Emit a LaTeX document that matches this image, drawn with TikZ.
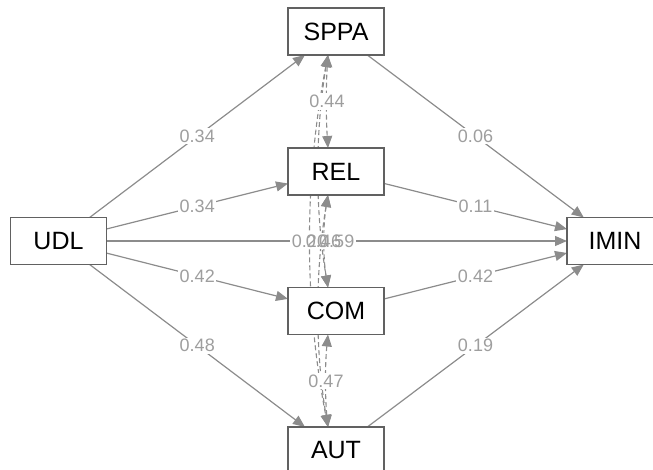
\documentclass[tikz,border=0pt]{standalone}
\usepackage{fontspec}
\setmainfont{Liberation Sans}
\usetikzlibrary{arrows.meta,backgrounds,calc}
\begin{document}
\begin{tikzpicture}[x=1pt,y=-1pt,
  var/.style={draw=black!62, line width=1.2pt, fill=white, minimum width=96pt,
    minimum height=47pt, inner sep=0pt, outer sep=0pt,
    font=\fontsize{25}{25}\selectfont},
  tipa/.tip={Triangle[length=12pt,width=10pt]},
  regpath/.style={draw=black!45, line width=1.2pt, -tipa},
  covpath/.style={draw=black!45, line width=1.1pt, dash pattern=on 5pt off 3pt, tipa-tipa},
  lab/.style={text=black!38, inner sep=1.5pt, font=\fontsize{18}{18}\selectfont}]
\useasboundingbox (0,0) rectangle (653,470);

% variables
\node[var] (SPPA) at (336,31.5) {SPPA};
\node[var] (REL)  at (336,171.5) {REL};
\node[var] (COM)  at (336,311) {COM};
\node[var] (AUT)  at (336,450.5) {AUT};
\node[var] (UDL)  at (58.5,241) {UDL};
\node[var] (IMIN) at (615,241) {IMIN};

% covariance end points
\coordinate (ss) at ([xshift=-8pt]SPPA.south);
\coordinate (rn) at ([xshift=-8pt]REL.north);
\coordinate (rs) at ([xshift=-8pt]REL.south);
\coordinate (cn) at ([xshift=-8pt]COM.north);
\coordinate (cs) at ([xshift=-8pt]COM.south);
\coordinate (an) at ([xshift=-8pt]AUT.north);

% labels
\node[lab] (l1) at ($(UDL)!.5!(SPPA)$) {0.34};
\node[lab] (l2) at ($(UDL)!.5!(REL)$) {0.34};
\node[lab] (l3) at ($(UDL)!.5!(COM)$) {0.42};
\node[lab] (l4) at ($(UDL)!.5!(AUT)$) {0.48};
\node[lab] (l5) at ($(SPPA)!.5!(IMIN)$) {0.06};
\node[lab] (l6) at ($(REL)!.5!(IMIN)$) {0.11};
\node[lab] (l7) at ($(COM)!.5!(IMIN)$) {0.42};
\node[lab] (l8) at ($(AUT)!.5!(IMIN)$) {0.19};
\node[lab] (l9) at (327,101.5) {0.44};
\node[lab] (l10) at (326,381) {0.47};
\node[lab] (lA) at (309.5,241) {0.20};
\node[lab] (lB) at (323.5,241) {0.46};
\node[lab] (lC) at ($(UDL.east)!.5!(IMIN.west)$) {0.59};

\begin{scope}[on background layer]
  % covariances
  \draw[covpath] (ss) .. controls +(-2,30) and +(-2,-30) .. (rn);
  \draw[covpath] (rs) .. controls +(-5,30) and +(-5,-30) .. (cn);
  \draw[covpath] (cs) .. controls +(-3,30) and +(-3,-30) .. (an);
  \draw[covpath] (ss) .. controls +(-13,77) and +(-13,-77) .. (cn);
  \draw[covpath] (rs) .. controls +(-13,77) and +(-13,-77) .. (an);
  \draw[covpath] (ss) .. controls +(-24,124) and +(-24,-124) .. (an);
  % regressions
  \draw[regpath] (UDL) -- (SPPA);
  \draw[regpath] (UDL) -- (REL);
  \draw[regpath] (UDL) -- (COM);
  \draw[regpath] (UDL) -- (AUT);
  \draw[regpath] (UDL) -- (IMIN);
  \draw[regpath] (SPPA) -- (IMIN);
  \draw[regpath] (REL) -- (IMIN);
  \draw[regpath] (COM) -- (IMIN);
  \draw[regpath] (AUT) -- (IMIN);
  % label backgrounds
  \foreach \l in {l1,l2,l3,l4,l5,l6,l7,l8,l9,l10,lA,lB,lC}
    \fill[white] (\l.south west) rectangle (\l.north east);
\end{scope}
\end{tikzpicture}
\end{document}
